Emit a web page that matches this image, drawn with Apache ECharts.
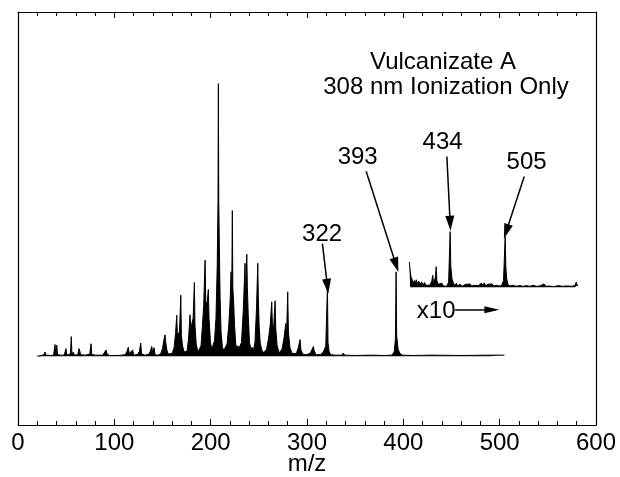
<!DOCTYPE html>
<html>
<head>
<meta charset="utf-8">
<script src="https://cdn.jsdelivr.net/npm/echarts@6/dist/echarts.min.js"></script>
<style>
  html, body { margin: 0; padding: 0; background: #fff; }
  #chart { width: 620px; height: 477px; }
</style>
</head>
<body>
<div id="chart"></div>
<script>
// spectrum: [m/z, intensity]
const mainTrace = [
  [20,0],[24,0.2],[27,0.4],[28,1.2],[29,0.3],[34,0.2],[37,0.3],[38.4,3.4],[39.2,0.6],[40.2,3.2],[41,0.5],
  [44,0.3],[48,0.3],[49.8,2.2],[50.6,0.4],[53,0.4],[54.5,1],[55.3,5.7],[56,0.5],[57.5,1.2],[58.5,0.3],
  [62,0.4],[63.3,2.2],[64.2,1.4],[65,0.4],[70,0.3],[74.5,0.6],[75.8,3.6],[76.6,0.5],[80,0.3],[88,0.3],
  [90,0.8],[91.4,1.8],[92.5,0.6],[95,0.2],[104,0.2],[111,0.4],[113,1.2],[114.5,2.6],[115.5,0.8],[117,0.5],
  [119.1,1.8],[120,0.3],[124,0.5],[126,1.4],[127.4,3.8],[128.3,0.6],[132,0.3],[136,0.6],[137.5,1.5],
  [138.8,2.8],[139.8,1],[141.2,2.5],[142.3,0.4],[145,0.3],
  [148,0.6],[150,2.2],[151.3,4.5],[152.6,6.2],[153.4,4],[154.5,1.8],[156,0.6],[158,0.4],
  [160,0.8],[162,2.4],[163.5,6.5],[164.8,11.9],[165.4,6],[166.5,6.8],[167.5,6],[169,17.7],[169.6,6],
  [170.8,3],[172.5,1.2],[174,0.8],
  [175.5,1.5],[177,5],[178.6,12],[179.3,8],[180.5,9.5],[181.8,11],[183.1,21.4],[183.7,9],[185,3.5],
  [186.8,1.2],[188.5,1],
  [190,3],[191.5,9],[192.8,15],[194.2,27.9],[194.9,16],[196.2,15],[197.6,19.4],[198.3,11],[199.8,4],
  [201.2,2],[202.5,2.2],
  [204,4.5],[205.5,11],[206.8,26],[207.6,45],[208,79.2],[208.4,45],[209,32],[209.8,17],[210.8,7],
  [212.2,2.5],[213.8,1.8],[215.5,2],
  [217,3.5],[218.8,9],[220.2,16],[221.2,24.5],[221.8,15],[222.5,42.3],[223,20],[223.8,16],[224.8,9],
  [226,3.5],[227.2,2.2],[228.2,3],[229.2,2.2],[230.5,2],
  [232,4],[233.8,13],[235.7,27],[236.2,17],[237.5,29.6],[238.1,20],[239,12],[240.3,4],[241.8,2],
  [243,2.6],[244.5,1.8],
  [246,4],[247.6,14],[248.9,27],[249.5,17],[250.3,9],[251.4,4],[253,1.8],[255,1],[256.5,1.2],
  [258,2],[260,5],[261.8,9],[263.4,15.8],[264.2,8],[265.5,9],[266.9,16.1],[267.6,8],[269,3],[271,1],
  [272.5,0.8],
  [274,2],[276,5],[278,9.5],[278.8,6],[280,18.7],[280.7,7],[282.3,2.5],[284.5,0.8],[286.5,0.5],
  [289,0.8],[291,2.5],[292.8,4.8],[293.6,2],[295.5,0.6],[299,0.4],[303,0.8],[305,1.8],[306.6,2.8],
  [307.5,1.5],[309.5,0.4],[314,0.5],[317,1.2],[319.5,3],[321.2,20.2],[321.8,4],[323,1.2],[325,0.4],
  [330,0.3],[336,0.3],[337.8,0.9],[339,0.3],[350,0.2],[365,0.3],[380,0.2],[388,0.3],[390.5,1.2],
  [391.8,5],[392.5,24.5],[393.1,6],[394.5,2],[396.5,0.8],[399,0.3],[410,0.2],[430,0.3],[460,0.2],
  [490,0.3],[505,0.3]
];

// x10 expanded trace, intensity above its own baseline
const x10Trace = [
  [406.3,7.4],[407,5],[408,3],[409.5,2],[410.5,1.2],[411.5,2],[412.5,1.2],[413.5,2.2],[414.5,1],
  [416,1.8],[417.5,1],[419,1.6],[420.5,0.7],[422,1.4],[423.5,0.6],[425,0.9],[427.5,0.6],[429.5,1.8],
  [430.5,3.5],[431.5,1],[432.5,1],[433.3,3],[434.1,6],[434.8,2],[436,0.9],[438,0.6],[440,1.2],
  [441.5,0.4],[443,0.8],[445,0.3],[447,1.5],[448.6,16.2],[449.3,6],[450.5,2.5],[452,1.2],[453.5,0.5],
  [455,1.2],[456.5,0.4],[459,0.9],[461,0.3],[464,0.8],[466,0.3],[469,1],[471,0.4],[474,0.6],[476,1],
  [478,0.5],[481,1.2],[482.5,0.6],[484,1.3],[485.5,0.5],[488,0.9],[490,0.6],[492,1],[494,0.4],
  [497,0.6],[499.5,0.4],[502,0.5],[504,2],[505.7,14.7],[506.4,6],[507.3,2.5],[508.5,1],[510,0.4],
  [514,0.6],[517,0.3],[521,0.5],[524,0.3],[528,0.5],[531,0.3],[535,0.6],[538,0.3],[542,0.4],[546,1],
  [548,0.3],[552,0.4],[556,0.2],[561,0.5],[565,0.3],[570,0.4],[575,0.3],[578,0.5],[579.5,1.5],
  [580.5,0.5],[581.5,0.5]
];

// peak annotations
const labelText = ['322', '393', '434', '505', 'x10'];
const labelPos = [[315.7, 35.5], [352.6, 57.8], [440.8, 62.1], [528.0, 56.2], [434.1, 13.1]];
const arrowFrom = [[316, 32.7], [361.4, 53.7], [445.2, 58.0], [525.5, 52.2], [453.8, 13.5]];
const arrowTo = [[321.2, 20.3], [392.5, 26.5], [448.6, 38.6], [506.8, 36.2], [491.9, 13.5]];
const arrowHead = [[9, 15], [9, 15], [9, 15], [9, 15], [7, 15]];

const FONT = '"Liberation Sans", Arial, Helvetica, sans-serif';
const INK = '#000';

const chart = echarts.init(document.getElementById('chart'));

const xBase = {
  type: 'value', min: 0, max: 600, interval: 100,
  axisLine: { show: true, onZero: false, lineStyle: { color: INK, width: 1.2 } },
  axisTick: { show: true, inside: true, length: 6, lineStyle: { color: INK } },
  minorTick: { show: true, splitNumber: 5, length: 4, lineStyle: { color: INK } },
  splitLine: { show: false }
};
const yBase = {
  type: 'value',
  axisLine: { show: true, onZero: false, lineStyle: { color: INK, width: 1.2 } },
  axisTick: { show: false }, axisLabel: { show: false }, splitLine: { show: false }
};

const titleText = [
  { type: 'text', x: 443, y: 62,
    style: { text: 'Vulcanizate A', fontSize: 24, fontFamily: FONT, fill: INK, align: 'center', verticalAlign: 'middle' } },
  { type: 'text', x: 446, y: 87,
    style: { text: '308 nm Ionization Only', fontSize: 24, fontFamily: FONT, fill: INK, align: 'center', verticalAlign: 'middle' } }
];

chart.setOption({
  animation: false,
  backgroundColor: '#fff',
  grid: { left: 18, right: 24, top: 12, bottom: 52, outerBoundsMode: 'none', containLabel: false },
  graphic: titleText,
  xAxis: [
    Object.assign({}, xBase, {
      position: 'bottom',
      name: 'm/z', nameLocation: 'middle', nameGap: 27, nameMoveOverlap: false,
      nameTextStyle: { fontSize: 24, fontFamily: FONT, color: INK },
      axisLabel: { fontSize: 24, fontFamily: FONT, color: INK, margin: 6 }
    }),
    Object.assign({}, xBase, { position: 'top', axisLabel: { show: false } })
  ],
  yAxis: [
    Object.assign({}, yBase, { min: -20, max: 100, position: 'left' }),
    Object.assign({}, yBase, { min: -40, max: 80, position: 'right' })
  ],
  series: [
    {
      type: 'line', name: 'spectrum', xAxisIndex: 0, yAxisIndex: 0,
      data: mainTrace, showSymbol: false, symbol: 'none', sampling: 'none',
      lineStyle: { color: INK, width: 1 },
      areaStyle: { color: INK, opacity: 1 },
      silent: true,
      markLine: {
        silent: true, animation: false,
        symbol: ['none', 'triangle'],
        label: { show: false },
        lineStyle: { color: INK, width: 1.5, type: 'solid' },
        data: arrowFrom.map((f, i) => [
          { coord: f, symbol: 'none' },
          { coord: arrowTo[i], symbol: 'triangle', symbolSize: arrowHead[i] }
        ])
      }
    },
    {
      type: 'line', name: 'x10', xAxisIndex: 0, yAxisIndex: 1,
      data: x10Trace, showSymbol: false, symbol: 'none', sampling: 'none',
      lineStyle: { color: INK, width: 1 },
      areaStyle: { color: INK, opacity: 1 },
      silent: true
    }
  ]
});

// peak labels placed through the axes' own scales
const peakLabels = labelPos.map((p, i) => {
  const px = chart.convertToPixel({ xAxisIndex: 0, yAxisIndex: 0 }, p);
  return {
    type: 'text', x: px[0], y: px[1], silent: true,
    style: { text: labelText[i], fontSize: 24, fontFamily: FONT, fill: INK, align: 'center', verticalAlign: 'middle' }
  };
});
chart.setOption({ graphic: titleText.concat(peakLabels) });
</script>
</body>
</html>
